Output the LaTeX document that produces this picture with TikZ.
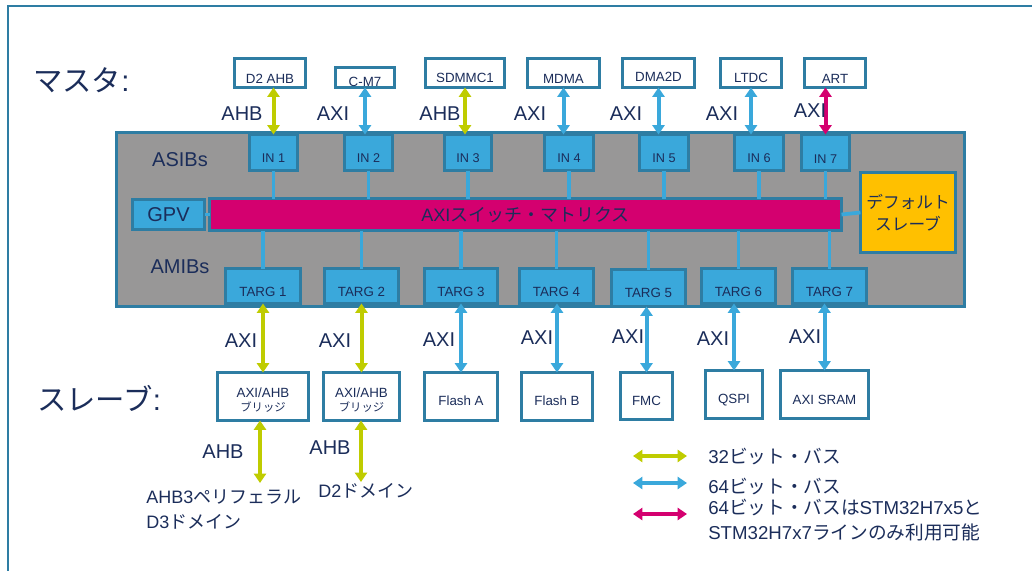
\documentclass[tikz,border=0pt]{standalone}
\usepackage{fontspec}
\setmainfont{Liberation Sans}
\newfontfamily\jp{Noto Sans CJK JP}
\usetikzlibrary{arrows.meta}
\definecolor{frameblue}{HTML}{2E7DA3}
\definecolor{cyanf}{HTML}{3AA8DB}
\definecolor{grayf}{HTML}{989797}
\definecolor{magf}{HTML}{D4006F}
\definecolor{ygreen}{HTML}{BFCC00}
\definecolor{orangef}{HTML}{FFC000}
\definecolor{navy}{HTML}{1B2D5A}
\newcommand\fs[1]{\fontsize{#1}{#1}\selectfont}
% name, x1, y1, x2, y2, style, text-y, text
\newcommand\bx[8]{%
  \node[#6, minimum width={(#4-#2-3)*0.75pt}, minimum height={(#5-#3-3)*0.75pt}] (#1) at ({(#2+#4)/2},{(#3+#5)/2}) {};
  \node[txt] (#1t) at ({(#2+#4)/2},#7) {#8};}
\tikzset{
  box/.style={draw=frameblue, line width=2.2pt, inner sep=0pt, outer sep=0pt},
  mbox/.style={box, fill=white},
  cbox/.style={box, fill=cyanf},
  txt/.style={text=navy, inner sep=0pt, align=center, font=\fs{10}},
  lbl/.style={text=navy, inner sep=0pt, font=\fs{15}},
  big/.style={text=navy, inner sep=0pt, anchor=west, font=\fs{22}},
  arr/.style={{Triangle[width=9pt,length=7pt]}-{Triangle[width=9pt,length=7pt]}, line width=3pt},
  link/.style={draw=cyanf, line width=2.8pt},
}
\begin{document}
\begin{tikzpicture}[x=0.75pt,y=-0.75pt]
\useasboundingbox (0,0) rectangle (1032,571);
\draw[frameblue, line width=1.6pt] (1032,6) -| (8,571);

% titles
\node[big] (tm) at (33,80) {{\jp マスタ}:};
\node[big] (ts) at (37,398) {{\jp スレーブ}:};

% masters
\bx{m1}{233}{57}{307}{89}{mbox}{79}{D2 AHB}
\bx{m2}{334}{66}{396}{89}{mbox}{82}{C-M7}
\bx{m3}{424}{57}{506}{89}{mbox}{78}{SDMMC1}
\bx{m4}{526}{57}{601}{89}{mbox}{79}{MDMA}
\bx{m5}{621}{57}{696}{89}{mbox}{77}{DMA2D}
\bx{m6}{719}{57}{783}{89}{mbox}{78}{LTDC}
\bx{m7}{803}{57}{867}{89}{mbox}{79}{ART}

% interconnect body
\bx{gr}{115}{131}{966}{308}{box, fill=grayf, line width=2.6pt}{200}{}
\node[lbl] (asib) at (180,160) {ASIBs};
\node[lbl] (amib) at (180,267) {AMIBs};

\bx{i1}{248}{133}{299}{172}{cbox}{158}{\fs{9.5}IN 1}
\bx{i2}{343}{133}{394}{172}{cbox}{158}{\fs{9.5}IN 2}
\bx{i3}{443}{133}{493}{172}{cbox}{158}{\fs{9.5}IN 3}
\bx{i4}{543}{133}{595}{172}{cbox}{158}{\fs{9.5}IN 4}
\bx{i5}{638}{133}{690}{172}{cbox}{158}{\fs{9.5}IN 5}
\bx{i6}{733}{133}{785}{172}{cbox}{158}{\fs{9.5}IN 6}
\bx{i7}{800}{133}{851}{172}{cbox}{159}{\fs{9.5}IN 7}

\bx{sw}{208}{197}{843}{232}{box, fill=magf}{215}{\fs{13.5}AXI{\jp スイッチ・マトリクス}}
\bx{gpv}{131}{198}{206}{231}{cbox}{215}{\fs{15}GPV}
\bx{ds}{859}{171}{957}{254}{box, fill=orangef}{213}{{\fs{12.5}\jp デフォルト}\\[4pt]{\fs{12.5}\jp スレーブ}}

\bx{t1}{224}{267}{302}{305}{cbox}{292}{TARG 1}
\bx{t2}{323}{267}{400}{305}{cbox}{292}{TARG 2}
\bx{t3}{423}{267}{499}{305}{cbox}{292}{TARG 3}
\bx{t4}{518}{267}{595}{305}{cbox}{292}{TARG 4}
\bx{t5}{610}{268}{687}{308}{cbox}{293}{TARG 5}
\bx{t6}{700}{267}{777}{305}{cbox}{292}{TARG 6}
\bx{t7}{791}{267}{868}{305}{cbox}{292}{TARG 7}

% internal links
\foreach \n in {1,...,7}{
  \draw[link] (i\n.south) -- (i\n.south |- sw.north);
  \draw[link] (t\n.north |- sw.south) -- (t\n.north);
}
\draw[link] (gpv.east) -- (sw.west);
\draw[link] (sw.east) -- (ds.west);

% slaves
\bx{s1}{216}{371}{310}{422}{mbox}{400}{AXI/AHB\\[1pt]{\fs{8.5}\jp ブリッジ}}
\bx{s2}{322}{371}{401}{422}{mbox}{400}{AXI/AHB\\[1pt]{\fs{8.5}\jp ブリッジ}}
\bx{s3}{423}{371}{499}{422}{mbox}{401}{Flash A}
\bx{s4}{520}{371}{594}{422}{mbox}{401}{Flash B}
\bx{s5}{619}{371}{674}{421}{mbox}{401}{FMC}
\bx{s6}{704}{369}{764}{420}{mbox}{400}{QSPI}
\bx{s7}{779}{369}{870}{420}{mbox}{400}{AXI SRAM}

% master arrows
\draw[arr, ygreen] (m1.south -| i1.north) -- (i1.north);
\draw[arr, cyanf] (m2.south) -- (m2.south |- i2.north);
\draw[arr, ygreen] (m3.south) -- (m3.south |- i3.north);
\draw[arr, cyanf] (m4.south) -- (m4.south |- i4.north);
\draw[arr, cyanf] (m5.south) -- (m5.south |- i5.north);
\draw[arr, cyanf] (m6.south) -- (m6.south |- i6.north);
\draw[arr, magf] (m7.south -| i7.north) -- (i7.north);

\node[lbl] (la1) at (242,114) {AHB};
\node[lbl] (la2) at (333,114) {AXI};
\node[lbl] (la3) at (440,114) {AHB};
\node[lbl] (la4) at (530,114) {AXI};
\node[lbl] (la5) at (626,114) {AXI};
\node[lbl] (la6) at (722,114) {AXI};
\node[lbl] (la7) at (810,111) {AXI};

% slave arrows
\draw[arr, ygreen] (s1.north |- t1.south) -- (s1.north);
\draw[arr, ygreen] (s2.north |- t2.south) -- (s2.north);
\draw[arr, cyanf] (s3.north |- t3.south) -- (s3.north);
\draw[arr, cyanf] (s4.north |- t4.south) -- (s4.north);
\draw[arr, cyanf] (s5.north |- t5.south) -- (s5.north);
\draw[arr, cyanf] (s6.north |- t6.south) -- (s6.north);
\draw[arr, cyanf] (s7.north |- t7.south) -- (s7.north);

\node[lbl] (lb1) at (241,341) {AXI};
\node[lbl] (lb2) at (335,341) {AXI};
\node[lbl] (lb3) at (439,340) {AXI};
\node[lbl] (lb4) at (537,338) {AXI};
\node[lbl] (lb5) at (628,337) {AXI};
\node[lbl] (lb6) at (713,339) {AXI};
\node[lbl] (lb7) at (805,337) {AXI};

% bridges downstream
\coordinate (e1) at (260,483);
\coordinate (e2) at (361,482);
\draw[arr, ygreen] (s1.south -| e1) -- (e1);
\draw[arr, ygreen] (s2.south -| e2) -- (e2);
\node[lbl] (lc1) at (223,452) {AHB};
\node[lbl] (lc2) at (330,448) {AHB};
\node[lbl, anchor=west, font=\fs{13.5}] (d3a) at (146,497) {AHB3{\jp ペリフェラル}};
\node[lbl, anchor=west, font=\fs{13.5}] (d3b) at (146,522) {D3{\jp ドメイン}};
\node[lbl, anchor=west, font=\fs{13.5}] (d2) at (318,491) {D2{\jp ドメイン}};

% legend
\coordinate (g1a) at (633,456); \coordinate (g1b) at (687,456);
\coordinate (g2a) at (633,483); \coordinate (g2b) at (687,483);
\coordinate (g3a) at (633,514); \coordinate (g3b) at (687,514);
\draw[arr, ygreen] (g1a) -- (g1b);
\draw[arr, cyanf] (g2a) -- (g2b);
\draw[arr, magf] (g3a) -- (g3b);
\node[lbl, anchor=west, font=\fs{14}] (lg1) at (708,457) {32{\jp ビット・バス}};
\node[lbl, anchor=west, font=\fs{14}] (lg2) at (708,487) {64{\jp ビット・バス}};
\node[lbl, anchor=west, font=\fs{14}] (lg3) at (708,508) {64{\jp ビット・バスは}STM32H7x5{\jp と}};
\node[lbl, anchor=west, font=\fs{14}] (lg4) at (708,532) {STM32H7x7{\jp ラインのみ利用可能}};
\end{tikzpicture}
\end{document}
